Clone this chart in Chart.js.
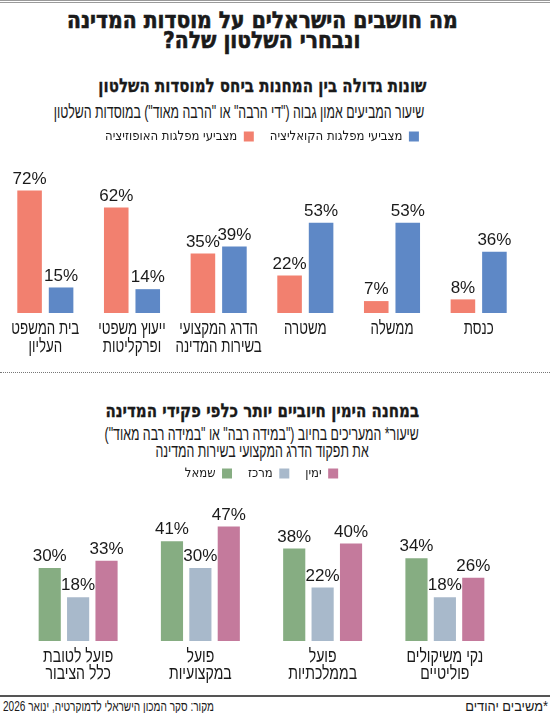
<!DOCTYPE html>
<html lang="he">
<head>
<meta charset="utf-8">
<script src="https://cdn.jsdelivr.net/npm/chart.js@4"></script>
<style>
  html, body { margin: 0; padding: 0; background: #fff; }
  body { width: 550px; height: 713px; position: relative; overflow: hidden;
         font-family: "Liberation Sans", sans-serif; color: #1a1a1a; }
  .topline { position: absolute; left: 0; top: 0; width: 550px; height: 1px;
             border-top: 1px solid #9a9a9a; border-bottom: 1px solid #9a9a9a; }
  .txt { position: absolute; left: 0; width: 524px; text-align: center; direction: rtl; white-space: nowrap; }
  .txt span { display: inline-block; }
  .title { font-family: "DejaVu Sans Condensed", "DejaVu Sans", sans-serif; font-weight: bold;
           font-size: 23px; line-height: 20px; top: 10px; -webkit-text-stroke: 0.6px #1a1a1a; }
  .title span { transform: scaleX(0.98); }
  .head { font-family: "DejaVu Sans Condensed", "DejaVu Sans", sans-serif; font-weight: bold;
          font-size: 19px; line-height: 20px; -webkit-text-stroke: 0.3px #1a1a1a; }
  .head span { transform: scaleX(0.88); }
  .sub { font-size: 19px; line-height: 17px; }
  .sub span { transform: scaleX(0.65); }
  .dots { position: absolute; left: 0; top: 372px; width: 550px; border-top: 1px dotted #777; }
  .footline { position: absolute; left: 0; top: 695px; width: 550px; border-top: 2px solid #555; }
  .foot { position: absolute; top: 699px; font-size: 14px; line-height: 14px; direction: rtl; white-space: nowrap; }
  .foot.l { left: 3px; transform-origin: left center; transform: scaleX(0.72); }
  .foot.r { right: 2px; transform-origin: right center; transform: scaleX(0.92); }
  .box { position: absolute; left: 0; width: 550px; }
</style>
</head>
<body>
<div class="topline"></div>
<div class="txt title"><span>מה חושבים הישראלים על מוסדות המדינה</span><br><span>ונבחרי השלטון שלה?</span></div>

<div class="txt head" style="top:75px"><span>שונות גדולה בין המחנות ביחס למוסדות השלטון</span></div>
<div class="txt sub" style="top:103px"><span>שיעור המביעים אמון גבוה ("די הרבה" או "הרבה מאוד") במוסדות השלטון</span></div>
<div class="box" style="top:114px;height:249px"><canvas id="topChart"></canvas></div>

<div class="dots"></div>

<div class="txt head" style="top:400px"><span>במחנה הימין חיוביים יותר כלפי פקידי המדינה</span></div>
<div class="txt sub" style="top:425px"><span>שיעור* המעריכים בחיוב ("במידה רבה" או "במידה רבה מאוד")</span><br><span>את תפקוד הדרג המקצועי בשירות המדינה</span></div>
<div class="box" style="top:451px;height:240px"><canvas id="bottomChart"></canvas></div>

<div class="footline"></div>
<div class="foot l">מקור: סקר המכון הישראלי לדמוקרטיה, ינואר 2026</div>
<div class="foot r">*משיבים יהודים</div>

<script>
// top chart: trust in institutions, left to right as drawn
const institutions = [
  ['בית המשפט', 'העליון'],
  ['ייעוץ משפטי', 'ופרקליטות'],
  ['הדרג המקצועי', 'בשירות המדינה'],
  'משטרה',
  'ממשלה',
  'כנסת'
];
const oppositionVoters = [72, 62, 35, 22, 7, 8];
const coalitionVoters = [15, 14, 39, 53, 53, 36];

// bottom chart: positive assessment of civil service, by camp
const qualities = [
  ['פועל לטובת', 'כלל הציבור'],
  ['פועל', 'במקצועיות'],
  ['פועל', 'בממלכתיות'],
  ['נקי משיקולים', 'פוליטיים']
];
const leftCamp = [30, 41, 38, 34];
const centerCamp = [18, 30, 22, 18];
const rightCamp = [33, 47, 40, 26];

const NUM_FONT = '"Liberation Sans Narrow", "Liberation Sans", sans-serif';
const HEB_FONT = '"Liberation Sans", sans-serif';
const LEG_FONT = '"DejaVu Sans Condensed", "Liberation Sans", sans-serif';

// percent labels above the bars
const valueLabels = {
  id: 'valueLabels',
  afterDatasetsDraw(chart) {
    const ctx = chart.ctx;
    ctx.save();
    ctx.font = '17px ' + NUM_FONT;
    ctx.fillStyle = '#1a1a1a';
    ctx.textAlign = 'center';
    ctx.textBaseline = 'bottom';
    chart.data.datasets.forEach((ds, i) => {
      chart.getDatasetMeta(i).data.forEach((bar, j) => {
        ctx.fillText(ds.data[j] + '%', bar.x, bar.y - 3);
      });
    });
    ctx.restore();
  }
};

// category names under the axis, squeezed to look like a condensed face
const narrowTicks = {
  id: 'narrowTicks',
  afterDraw(chart, args, opts) {
    const ctx = chart.ctx;
    const xScale = chart.scales.x;
    ctx.save();
    ctx.font = opts.size + 'px ' + HEB_FONT;
    ctx.fillStyle = '#1a1a1a';
    ctx.textAlign = 'center';
    ctx.textBaseline = 'alphabetic';
    chart.data.labels.forEach((label, i) => {
      const px = xScale.getPixelForTick(i);
      [].concat(label).forEach((line, k) => {
        ctx.save();
        ctx.translate(px, chart.chartArea.bottom + opts.first + k * opts.lineHeight);
        ctx.scale(opts.squeeze, 1);
        ctx.fillText(line, 0, 0);
        ctx.restore();
      });
    });
    ctx.restore();
  }
};

function makeChart(id, labels, datasets, yMax, pad, catPct, barPct, axisH, tickOpts) {
  return new Chart(document.getElementById(id), {
    type: 'bar',
    data: { labels: labels, datasets: datasets },
    plugins: [valueLabels, narrowTicks],
    options: {
      responsive: true,
      maintainAspectRatio: false,
      animation: false,
      layout: { padding: pad },
      datasets: { bar: { categoryPercentage: catPct, barPercentage: barPct } },
      plugins: {
        tooltip: { enabled: false },
        narrowTicks: tickOpts,
        legend: {
          position: 'top',
          rtl: true,
          reverse: true,
          labels: {
            boxWidth: 10, boxHeight: 10, padding: 16,
            color: '#1a1a1a',
            font: { family: LEG_FONT, size: 13 }
          }
        }
      },
      scales: {
        x: {
          grid: { display: false },
          border: { display: false },
          ticks: { display: false },
          afterFit(scale) { scale.height = axisH; }
        },
        y: { display: false, min: 0, max: yMax }
      }
    }
  });
}

const topChart = makeChart('topChart', institutions, [
  { label: 'מצביעי מפלגות האופוזיציה', data: oppositionVoters, backgroundColor: '#f2806f' },
  { label: 'מצביעי מפלגות הקואליציה', data: coalitionVoters, backgroundColor: '#5e88c6' }
], 94, { top: 0, left: 2, right: 28, bottom: 0 }, 0.727, 0.78, 50,
  { size: 19, squeeze: 0.7, first: 21, lineHeight: 17.5 });

const bottomChart = makeChart('bottomChart', qualities, [
  { label: 'שמאל', data: leftCamp, backgroundColor: '#86ad82' },
  { label: 'מרכז', data: centerCamp, backgroundColor: '#a8b9cb' },
  { label: 'ימין', data: rightCamp, backgroundColor: '#c47a9c' }
], 62, { top: 0, left: 17, right: 44, bottom: 0 }, 0.697, 0.78, 50,
  { size: 19, squeeze: 0.74, first: 21, lineHeight: 16.5 });
</script>
</body>
</html>
